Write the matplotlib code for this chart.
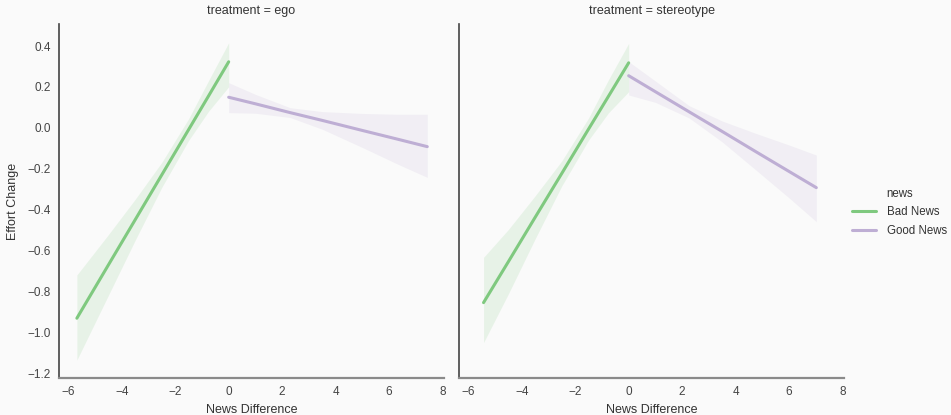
import numpy as np
import matplotlib.pyplot as plt

plt.rcParams['font.family'] = ['Liberation Sans', 'DejaVu Sans']

# fitted regression lines (end points) and confidence band edges, per treatment / news
ego_bad_x = [-5.68, -4.5, -3.5, -2.5, -1.5, -0.75, 0.0]
ego_bad_y = [-0.928, -0.668, -0.448, -0.228, -0.008, 0.157, 0.323]
ego_bad_hi = [-0.717, -0.520, -0.348, -0.167, 0.045, 0.232, 0.416]
ego_bad_lo = [-1.132, -0.816, -0.548, -0.289, -0.061, 0.082, 0.201]

ego_good_x = [0.0, 1.0, 2.3, 3.5, 5.0, 6.3, 7.43]
ego_good_y = [0.150, 0.118, 0.075, 0.037, -0.012, -0.054, -0.091]
ego_good_hi = [0.221, 0.164, 0.099, 0.080, 0.071, 0.067, 0.067]
ego_good_lo = [0.075, 0.072, 0.051, -0.006, -0.095, -0.175, -0.241]

st_bad_x = [-5.43, -4.5, -3.5, -2.5, -1.5, -0.75, 0.0]
st_bad_y = [-0.852, -0.652, -0.436, -0.221, -0.005, 0.156, 0.318]
st_bad_hi = [-0.631, -0.495, -0.331, -0.160, 0.049, 0.237, 0.413]
st_bad_lo = [-1.047, -0.809, -0.541, -0.282, -0.059, 0.075, 0.177]

st_good_x = [0.0, 1.0, 2.26, 3.5, 4.75, 6.0, 7.02]
st_good_y = [0.255, 0.177, 0.079, -0.017, -0.115, -0.212, -0.291]
st_good_hi = [0.324, 0.229, 0.109, 0.034, -0.026, -0.083, -0.132]
st_good_lo = [0.161, 0.125, 0.049, -0.068, -0.204, -0.341, -0.457]

treatments = ['ego', 'stereotype']
news_labels = ['Bad News', 'Good News']
colors = ['#7fc97f', '#beaed4']

panels = {
    'ego': [(ego_bad_x, ego_bad_y, ego_bad_lo, ego_bad_hi),
            (ego_good_x, ego_good_y, ego_good_lo, ego_good_hi)],
    'stereotype': [(st_bad_x, st_bad_y, st_bad_lo, st_bad_hi),
                   (st_good_x, st_good_y, st_good_lo, st_good_hi)],
}

bg = '#fafafa'
fig = plt.figure(figsize=(9.51, 4.15), dpi=100, facecolor=bg)
ax1 = fig.add_axes([0.062, 0.089, 0.405, 0.853], facecolor=bg)
ax2 = fig.add_axes([0.4826, 0.089, 0.405, 0.853], facecolor=bg, sharey=ax1, sharex=ax1)

handles = []
for ax, treat in zip([ax1, ax2], treatments):
    for (x, y, lo, hi), col, lab in zip(panels[treat], colors, news_labels):
        ax.fill_between(x, lo, hi, color=col, alpha=0.15, linewidth=0)
        ln, = ax.plot(x, y, color=col, lw=2.2, label=lab, solid_capstyle='round')
        if ax is ax1:
            handles.append(ln)
    ax.set_title('treatment = ' + treat, fontsize=9, color='#333333', pad=7)
    ax.set_xlabel('News Difference', fontsize=9, color='#333333', labelpad=4)
    for s in ['top', 'right']:
        ax.spines[s].set_visible(False)
    ax.spines['left'].set_color('#444444')
    ax.spines['left'].set_linewidth(1.2)
    ax.spines['bottom'].set_color('#8a8a8a')
    ax.spines['bottom'].set_linewidth(1.6)
    ax.tick_params(length=0, labelsize=8.5, labelcolor='#444444', pad=6)

ax1.set_xlim(-6.35, 8.06)
ax1.set_ylim(-1.22, 0.507)
ax1.set_xticks(np.arange(-6, 9, 2))
ax1.set_yticks(np.round(np.arange(-1.2, 0.41, 0.2), 1))
ax1.set_ylabel('Effort Change', fontsize=9, color='#333333', labelpad=6)
plt.setp(ax2.get_yticklabels(), visible=False)

leg = fig.legend(handles=handles, title='news', loc='center left',
                 bbox_to_anchor=(0.887, 0.488), frameon=False,
                 fontsize=8.3, title_fontsize=8.3, handlelength=2.1,
                 handletextpad=1.0, labelspacing=0.55, borderpad=0.2)
for t in leg.get_texts():
    t.set_color('#333333')
leg.get_title().set_color('#333333')

fig.savefig('out.png', dpi=100, facecolor=bg)
